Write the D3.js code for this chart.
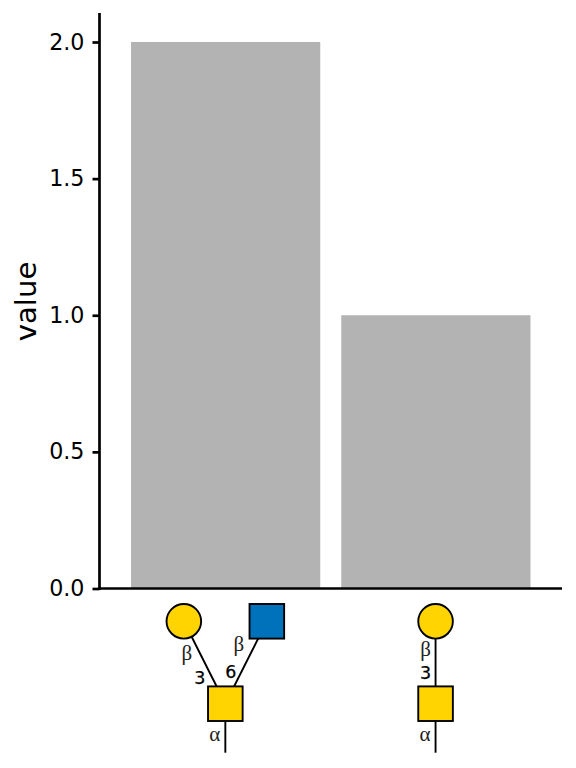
<!DOCTYPE html>
<html><head><meta charset="utf-8">
<script src="https://cdn.jsdelivr.net/npm/d3@7"></script>
<style>html,body{margin:0;padding:0;background:#fff}svg{display:block}text{font-family:"DejaVu Sans";fill:#000}</style>
</head><body><svg id="c" width="576" height="768"></svg>
<script>
const categories = ["A","B"];
const values = [2,1];
const yTicks = [0,0.5,1,1.5,2];
const nodesA = [
 {shape:"square",fill:"#FFD400",lane:0,level:0},
 {shape:"circle",fill:"#FFD400",lane:-1,level:1},
 {shape:"square",fill:"#0072BC",lane:1,level:1}];
const linksA = [
 {lane:-1,anomer:"β",pos:"3",aDx:3,aY:655,pDx:-25.5,pY:678},
 {lane:1,anomer:"β",pos:"6",aDx:-28,aY:646,pDx:5.5,pY:672}];
const nodesB = [
 {shape:"square",fill:"#FFD400",lane:0,level:0},
 {shape:"circle",fill:"#FFD400",lane:0,level:1}];
const linksB = [{lane:0,anomer:"β",pos:"3",aDx:-10,aY:651,pDx:-10,pY:673}];
const rootAnomer = "α";

const svg = d3.select("#c");
const x = d3.scaleBand().domain(categories).range([99.5,562]).paddingInner(0.1).paddingOuter(0.15);
const y = d3.scaleLinear().domain([0,2]).range([588.5,42]);
const laneX = d3.scaleLinear().domain([-1,1]).range([-41.5,41.5]);
const levelY = d3.scaleLinear().domain([0,1]).range([703.7,621.3]);
const size = 34.6;

svg.selectAll("rect.bar").data(categories).join("rect").attr("class","bar")
 .attr("x",d=>x(d)).attr("width",x.bandwidth())
 .attr("y",(d,i)=>y(values[i])).attr("height",(d,i)=>y(0)-y(values[i]))
 .attr("fill","#B3B3B3");

const gy = svg.append("g").attr("transform","translate(99.5,0)")
 .call(d3.axisLeft(y).tickValues(yTicks).tickFormat(d3.format(".1f")).tickSize(7).tickPadding(8).tickSizeOuter(0));
gy.select(".domain").remove();
gy.selectAll("line").attr("stroke","#000").attr("stroke-width",2.7);
gy.selectAll("text").attr("font-size",22.2).attr("font-family","DejaVu Sans").attr("fill","#000");
svg.append("line").attr("x1",99.5).attr("x2",99.5).attr("y1",13).attr("y2",589.9).attr("stroke","#000").attr("stroke-width",2.7);
svg.append("line").attr("x1",98.2).attr("x2",562).attr("y1",588.5).attr("y2",588.5).attr("stroke","#000").attr("stroke-width",2.7);
svg.append("text").attr("transform","translate(36,301.5) rotate(-90)").attr("text-anchor","middle").attr("font-size",29.2).text("value");

function glycan(cat,nodes,links){
 const cx = x(cat)+x.bandwidth()/2-0.3;
 const g = svg.append("g");
 const lw = 1.9;
 g.append("line").attr("x1",cx).attr("x2",cx).attr("y1",levelY(0)).attr("y2",752.7).attr("stroke","#000").attr("stroke-width",lw);
 links.forEach(l=>{
  g.append("line").attr("x1",cx).attr("y1",levelY(0)).attr("x2",cx+laneX(l.lane)).attr("y2",levelY(1)).attr("stroke","#000").attr("stroke-width",lw);
 });
 nodes.forEach(n=>{
  const px=cx+laneX(n.lane), py=levelY(n.level);
  if(n.shape==="circle") g.append("circle").attr("cx",px).attr("cy",py).attr("r",size/2).attr("fill",n.fill).attr("stroke","#000").attr("stroke-width",lw);
  else g.append("rect").attr("x",px-size/2).attr("y",py-size/2).attr("width",size).attr("height",size).attr("fill",n.fill).attr("stroke","#000").attr("stroke-width",lw);
 });
 links.forEach(l=>{
  g.append("text").attr("x",cx+laneX(l.lane)+l.aDx).attr("y",l.aY+5).attr("text-anchor","middle").attr("font-size",21).style("font-family","'Liberation Serif'").style("fill","#222").text(l.anomer);
  g.append("text").attr("x",cx+l.pDx).attr("y",l.pY+6).attr("text-anchor","middle").attr("font-size",17.5).attr("stroke","#000").attr("stroke-width",0.25).text(l.pos);
 });
 g.append("text").attr("x",cx-10.5).attr("y",741).attr("text-anchor","middle").attr("font-size",21).style("font-family","'Liberation Serif'").style("fill","#222").text(rootAnomer);
}
glycan("A",nodesA,linksA);
glycan("B",nodesB,linksB);
</script></body></html>
